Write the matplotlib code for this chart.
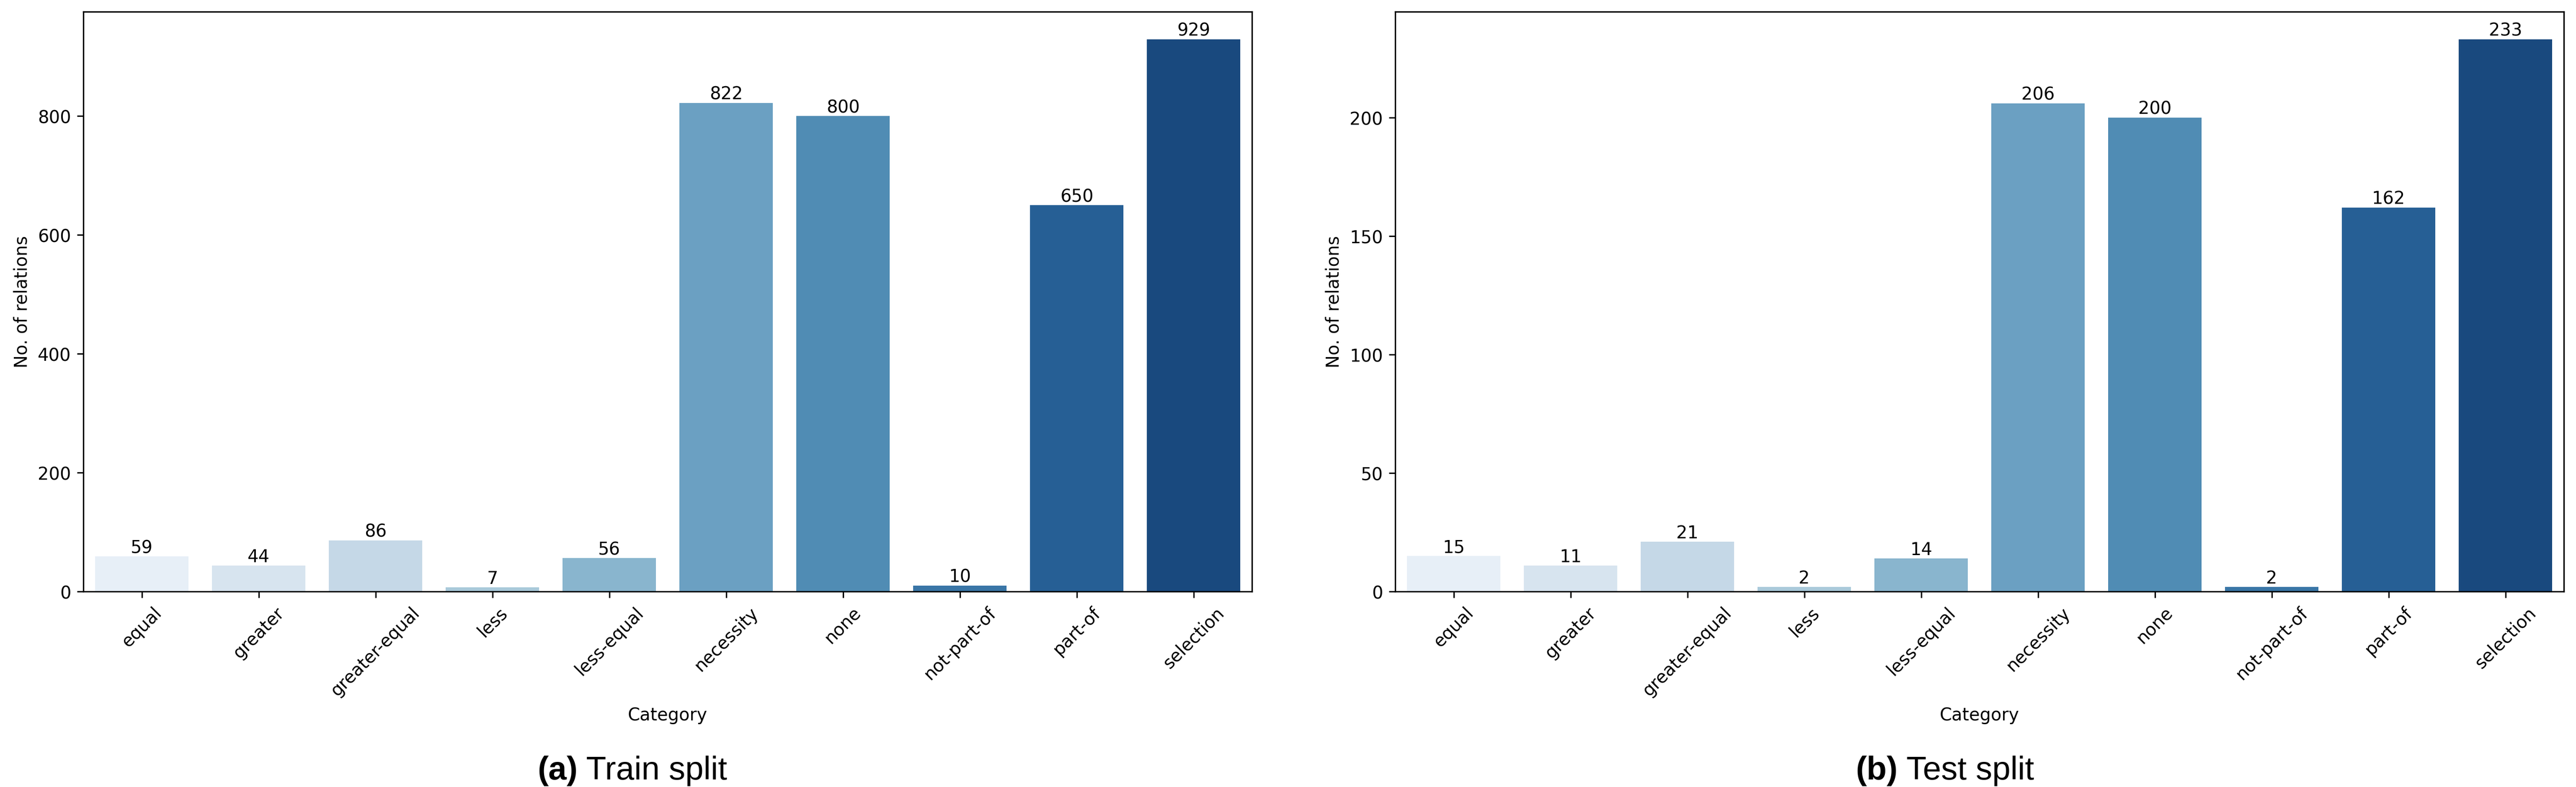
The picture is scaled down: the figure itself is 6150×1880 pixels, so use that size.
import matplotlib
matplotlib.use("Agg")
import matplotlib.pyplot as plt
import seaborn as sns
import pandas as pd

categories = ["equal", "greater", "greater-equal", "less", "less-equal",
              "necessity", "none", "not-part-of", "part-of", "selection"]
train_counts = [59, 44, 86, 7, 56, 822, 800, 10, 650, 929]
test_counts = [15, 11, 21, 2, 14, 206, 200, 2, 162, 233]
captions = [("(a)", " Train split"), ("(b)", " Test split")]

plt.rcParams['font.family'] = ['DejaVu Sans']

W, H = 6150, 1881
fig = plt.figure(figsize=(W / 300, H / 300), dpi=300)
ax_bottom = 1 - 1414 / H
ax_height = (1414 - 29) / H
ax_width = 2790 / W
ax1 = fig.add_axes([199 / W, ax_bottom, ax_width, ax_height])
ax2 = fig.add_axes([3331 / W, ax_bottom, ax_width, ax_height])

for ax, counts in [(ax1, train_counts), (ax2, test_counts)]:
    df = pd.DataFrame({"Category": categories, "Count": counts})
    sns.barplot(data=df, x="Category", y="Count", hue="Category",
                palette="Blues", legend=False, ax=ax)
    for c in ax.containers:
        ax.bar_label(c, fontsize=10)
    ax.set_xlabel("Category", fontsize=10)
    ax.set_ylabel("No. of relations", fontsize=10)
    ax.tick_params(axis='x', rotation=45, labelsize=10)
    ax.tick_params(axis='y', labelsize=10)

fig.canvas.draw()
renderer = fig.canvas.get_renderer()
cap_y = 1 - 1862 / H
for (bold, rest), cx in zip(captions, [1510 / W, 4643 / W]):
    t1 = fig.text(0, cap_y, bold, fontsize=18.8, fontweight='bold',
                  family='Liberation Sans', va='baseline', ha='left')
    t2 = fig.text(0, cap_y, rest, fontsize=18.8,
                  family='Liberation Sans', va='baseline', ha='left')
    w1 = t1.get_window_extent(renderer).width / fig.bbox.width
    w2 = t2.get_window_extent(renderer).width / fig.bbox.width
    x0 = cx - (w1 + w2) / 2
    t1.set_x(x0)
    t2.set_x(x0 + w1)

fig.savefig("out.png", dpi=300)
